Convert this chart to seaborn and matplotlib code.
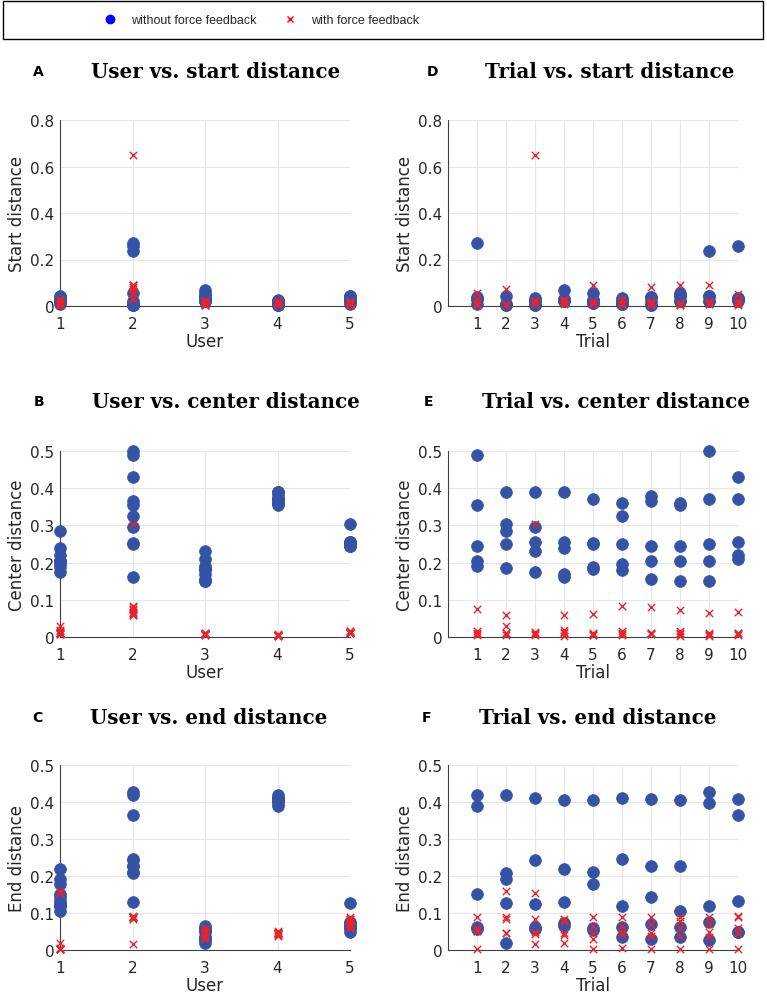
import numpy as np
import pandas as pd
import matplotlib
matplotlib.use("Agg")
import matplotlib.pyplot as plt
import seaborn as sns
from matplotlib.lines import Line2D
from matplotlib.patches import Rectangle

users = [1, 2, 3, 4, 5]
trials = [1, 2, 3, 4, 5, 6, 7, 8, 9, 10]
conditions = ["without force feedback", "with force feedback"]

# rows: users 1..5, columns: trials 1..10
start_without = [
    [0.040, 0.010, 0.020, 0.030, 0.025, 0.020, 0.040, 0.045, 0.020, 0.035],
    [0.270, 0.005, 0.005, 0.020, 0.015, 0.010, 0.005, 0.058, 0.235, 0.260],
    [0.030, 0.045, 0.035, 0.068, 0.058, 0.035, 0.020, 0.020, 0.045, 0.020],
    [0.010, 0.005, 0.005, 0.020, 0.015, 0.010, 0.005, 0.020, 0.020, 0.025],
    [0.030, 0.010, 0.020, 0.030, 0.025, 0.020, 0.040, 0.045, 0.045, 0.035],
]
start_with = [
    [0.030, 0.005, 0.010, 0.020, 0.015, 0.010, 0.020, 0.005, 0.010, 0.015],
    [0.055, 0.075, 0.650, 0.030, 0.092, 0.030, 0.080, 0.090, 0.090, 0.052],
    [0.010, 0.005, 0.025, 0.020, 0.010, 0.005, 0.015, 0.010, 0.020, 0.005],
    [0.015, 0.010, 0.020, 0.015, 0.020, 0.010, 0.005, 0.015, 0.010, 0.020],
    [0.005, 0.010, 0.015, 0.010, 0.015, 0.020, 0.010, 0.005, 0.015, 0.010],
]
center_without = [
    [0.205, 0.285, 0.175, 0.240, 0.187, 0.195, 0.205, 0.205, 0.205, 0.220],
    [0.490, 0.250, 0.295, 0.160, 0.252, 0.325, 0.365, 0.355, 0.500, 0.430],
    [0.190, 0.185, 0.230, 0.170, 0.183, 0.180, 0.155, 0.150, 0.150, 0.210],
    [0.355, 0.390, 0.390, 0.390, 0.370, 0.360, 0.380, 0.360, 0.370, 0.370],
    [0.245, 0.305, 0.255, 0.255, 0.250, 0.250, 0.245, 0.245, 0.250, 0.255],
]
center_with = [
    [0.012, 0.030, 0.010, 0.018, 0.008, 0.012, 0.010, 0.015, 0.008, 0.010],
    [0.075, 0.060, 0.305, 0.058, 0.063, 0.083, 0.080, 0.072, 0.065, 0.066],
    [0.008, 0.010, 0.008, 0.010, 0.006, 0.008, 0.009, 0.007, 0.005, 0.008],
    [0.005, 0.006, 0.005, 0.004, 0.005, 0.005, 0.008, 0.004, 0.003, 0.006],
    [0.015, 0.012, 0.013, 0.014, 0.010, 0.016, 0.012, 0.010, 0.010, 0.012],
]
end_without = [
    [0.152, 0.192, 0.125, 0.220, 0.178, 0.120, 0.142, 0.105, 0.118, 0.133],
    [0.420, 0.208, 0.243, 0.130, 0.210, 0.246, 0.227, 0.227, 0.428, 0.365],
    [0.058, 0.020, 0.058, 0.065, 0.055, 0.035, 0.030, 0.036, 0.027, 0.048],
    [0.390, 0.420, 0.412, 0.406, 0.406, 0.412, 0.408, 0.406, 0.398, 0.407],
    [0.062, 0.127, 0.062, 0.073, 0.060, 0.063, 0.070, 0.063, 0.075, 0.050],
]
end_with = [
    [0.002, 0.160, 0.153, 0.020, 0.003, 0.006, 0.002, 0.003, 0.002, 0.004],
    [0.090, 0.090, 0.017, 0.085, 0.088, 0.088, 0.088, 0.088, 0.088, 0.092],
    [0.052, 0.045, 0.048, 0.045, 0.030, 0.048, 0.038, 0.060, 0.035, 0.060],
    [0.052, 0.045, 0.042, 0.040, 0.045, 0.042, 0.045, 0.038, 0.050, 0.045],
    [0.060, 0.085, 0.085, 0.078, 0.065, 0.065, 0.070, 0.078, 0.070, 0.088],
]

mats = {
    "without force feedback": (start_without, center_without, end_without),
    "with force feedback": (start_with, center_with, end_with),
}
rows = []
for cond in conditions:
    s, c, e = mats[cond]
    for ui, u in enumerate(users):
        for ti, t in enumerate(trials):
            rows.append(dict(User=u, Trial=t, cond=cond,
                             start=s[ui][ti], center=c[ui][ti], end=e[ui][ti]))
df = pd.DataFrame(rows)

sns.set_style("white")
plt.rcParams["font.family"] = ["DejaVu Sans"]

W, H = 767, 995
fig = plt.figure(figsize=(W / 100, H / 100), dpi=100)

BLUE = "#3452A6"
RED = "#E8232B"

def fx(px):
    return px / W

def fy(py):
    return 1 - py / H

panels = [
    ("A", "User vs. start distance", "User", "start", "Start distance", (60, 350, 121, 307), 0.8, [0, 0.2, 0.4, 0.6, 0.8], 91, 72),
    ("B", "User vs. center distance", "User", "center", "Center distance", (60, 350, 452, 638), 0.5, [0, 0.1, 0.2, 0.3, 0.4, 0.5], 92, 402),
    ("C", "User vs. end distance", "User", "end", "End distance", (60, 350, 766, 951), 0.5, [0, 0.1, 0.2, 0.3, 0.4, 0.5], 90, 718),
    ("D", "Trial vs. start distance", "Trial", "start", "Start distance", (448, 738, 121, 307), 0.8, [0, 0.2, 0.4, 0.6, 0.8], 485, 72),
    ("E", "Trial vs. center distance", "Trial", "center", "Center distance", (448, 738, 452, 638), 0.5, [0, 0.1, 0.2, 0.3, 0.4, 0.5], 482, 402),
    ("F", "Trial vs. end distance", "Trial", "end", "End distance", (448, 738, 766, 951), 0.5, [0, 0.1, 0.2, 0.3, 0.4, 0.5], 479, 718),
]

for letter, title, xcol, metric, ylabel, (l, r, t, b), ymax, yt, tx, ty in panels:
    ax = fig.add_axes([fx(l), fy(b), fx(r) - fx(l), fy(t) - fy(b)])
    sub0 = df[df["cond"] == conditions[0]]
    sub1 = df[df["cond"] == conditions[1]]
    sns.scatterplot(data=sub0, x=xcol, y=metric, ax=ax, color=BLUE, marker="o",
                    s=72, edgecolor=BLUE, linewidth=0.5, clip_on=False, zorder=3)
    sns.scatterplot(data=sub1, x=xcol, y=metric, ax=ax, color=RED, marker="x",
                    s=28, linewidth=1.0, clip_on=False, zorder=4)
    if xcol == "User":
        ax.set_xlim(1, 5)
        ax.set_xticks(users)
    else:
        ax.set_xlim(0, 10)
        ax.set_xticks(trials)
    ax.set_ylim(0, ymax)
    ax.set_yticks(yt)
    ax.set_yticklabels(["0" if v == 0 else f"{v:g}" for v in yt])
    ax.grid(True, color="#e6e6e6", linewidth=0.8, zorder=0)
    ax.set_axisbelow(True)
    for sp in ["top", "right"]:
        ax.spines[sp].set_visible(False)
    for sp in ["left", "bottom"]:
        ax.spines[sp].set_color("#404040")
        ax.spines[sp].set_linewidth(0.8)
    ax.tick_params(axis="both", direction="in", length=3, width=0.6,
                   colors="#404040", labelcolor="#262626", labelsize=11, pad=4)
    ax.tick_params(axis="x", pad=7)
    ax.set_xlabel(xcol, fontsize=12, color="#262626", labelpad=1)
    ax.set_ylabel(ylabel, fontsize=12, color="#262626", labelpad=3)
    fig.text(fx(tx), fy(ty), title, fontsize=14.3, fontweight="bold",
             family="DejaVu Serif", ha="left", va="center", color="black")
    fig.text(fx(tx - 53), fy(ty), letter, fontsize=10, fontweight="bold",
             ha="center", va="center", color="black")

# legend box
fig.add_artist(Rectangle((fx(3), fy(40)), fx(763) - fx(3), fy(2) - fy(40),
                         transform=fig.transFigure, fill=False,
                         edgecolor="black", linewidth=1.0))
handles = [
    Line2D([], [], linestyle="none", marker="o", color="#0000ff", markersize=6),
    Line2D([], [], linestyle="none", marker="x", color="#ff0000", markersize=5, markeredgewidth=1),
]
fig.legend(handles, conditions, loc="center", bbox_to_anchor=(fx(260), fy(21)),
           ncol=2, frameon=False, handletextpad=0.93,
           columnspacing=1.9, handlelength=1.5,
           prop={"family": ["Liberation Sans", "DejaVu Sans"], "size": 9})

fig.savefig("out.png", dpi=100)
